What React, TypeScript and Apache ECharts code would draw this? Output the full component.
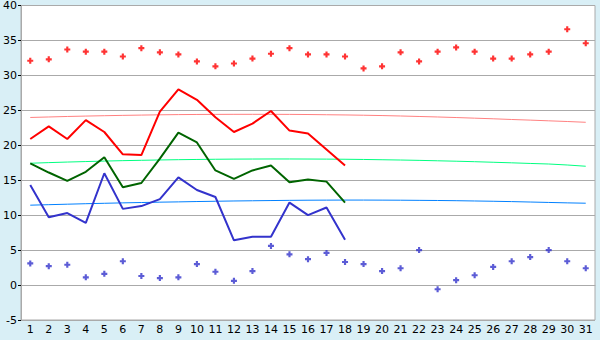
import React, { useEffect, useRef } from "react";
import * as echarts from "echarts";

const days = Array.from({ length: 31 }, (_, i) => String(i + 1));
const yTicks = [-5, 0, 5, 10, 15, 20, 25, 30, 35, 40];

const maxTemp = [20.9, 22.7, 20.9, 23.6, 21.9, 18.7, 18.6, 24.8, 28.0, 26.5, 24.0, 21.9, 23.1, 24.9, 22.1, 21.7, 19.4, 17.1];
const avgTemp = [17.4, 16.1, 14.9, 16.2, 18.3, 14.0, 14.6, 18.1, 21.8, 20.4, 16.4, 15.2, 16.4, 17.1, 14.7, 15.1, 14.8, 11.8];
const minTemp = [14.3, 9.7, 10.3, 8.9, 16.0, 10.9, 11.3, 12.3, 15.4, 13.6, 12.6, 6.4, 6.9, 6.9, 11.8, 10.0, 11.1, 6.5];

const recordMax = [32.1, 32.3, 33.7, 33.4, 33.4, 32.7, 33.9, 33.3, 33.0, 32.0, 31.3, 31.7, 32.4, 33.1, 33.9, 33.0, 33.0, 32.7, 31.0, 31.3, 33.3, 32.0, 33.4, 34.0, 33.4, 32.4, 32.4, 33.0, 33.4, 36.6, 34.6];
const recordMin = [3.1, 2.7, 2.9, 1.1, 1.6, 3.4, 1.3, 1.0, 1.1, 3.0, 1.9, 0.6, 2.0, 5.6, 4.4, 3.7, 4.6, 3.3, 3.0, 2.0, 2.4, 5.0, -0.6, 0.7, 1.4, 2.6, 3.4, 4.0, 5.0, 3.4, 2.4];

const normalMax = [23.98, 24.05, 24.12, 24.18, 24.23, 24.28, 24.32, 24.36, 24.39, 24.41, 24.42, 24.43, 24.43, 24.43, 24.42, 24.4, 24.37, 24.34, 24.3, 24.25, 24.19, 24.12, 24.05, 23.97, 23.88, 23.79, 23.69, 23.6, 23.5, 23.4, 23.29];
const normalAvg = [17.43, 17.52, 17.6, 17.67, 17.74, 17.8, 17.85, 17.9, 17.94, 17.97, 18.0, 18.02, 18.03, 18.04, 18.04, 18.03, 18.02, 18.0, 17.97, 17.93, 17.89, 17.84, 17.78, 17.72, 17.65, 17.57, 17.49, 17.4, 17.32, 17.18, 17.0];
const normalMin = [11.43, 11.5, 11.57, 11.64, 11.7, 11.76, 11.81, 11.86, 11.9, 11.95, 11.99, 12.03, 12.06, 12.09, 12.12, 12.14, 12.15, 12.16, 12.16, 12.15, 12.14, 12.12, 12.1, 12.07, 12.03, 11.99, 11.94, 11.88, 11.82, 11.76, 11.71];

const plus = "path://M1.6,0H3.4V1.6H5V3.4H3.4V5H1.6V3.4H0V1.6H1.6Z";

export default function App() {
  const ref = useRef<HTMLDivElement>(null);
  useEffect(() => {
    document.body.style.margin = "0";
    const chart = echarts.init(ref.current!, null, { renderer: "svg" });
    const font = { fontFamily: "DejaVu Sans", fontSize: 11, color: "#000" };
    const line = (name: string, data: number[], color: string, width: number) => ({
      name,
      type: "line",
      data,
      symbol: "none",
      lineStyle: { color, width },
      itemStyle: { color },
      z: width > 1 ? 3 : 2,
    });
    const scatter = (name: string, data: number[], color: string) => ({
      name,
      type: "scatter",
      data,
      symbol: plus,
      symbolSize: 6,
      itemStyle: { color },
      z: 4,
    });
    chart.setOption({
      animation: false,
      backgroundColor: "#d9eff6",
      grid: {
        left: 20,
        right: 5,
        top: 5,
        bottom: 20,
        show: true,
        backgroundColor: "#ffffff",
        borderColor: "#aaaaaa",
        borderWidth: 1,
      },
      xAxis: {
        type: "category",
        data: days,
        boundaryGap: true,
        axisLine: { lineStyle: { color: "#aaaaaa" } },
        axisTick: { alignWithLabel: true, length: 5, lineStyle: { color: "#000" } },
        axisLabel: { ...font, margin: 4, interval: 0 },
        splitLine: { show: false },
      },
      yAxis: {
        type: "value",
        min: yTicks[0],
        max: yTicks[yTicks.length - 1],
        interval: 5,
        axisLine: { show: true, lineStyle: { color: "#aaaaaa" } },
        axisTick: { show: true, length: 3, lineStyle: { color: "#000" } },
        axisLabel: { ...font, margin: 4 },
        splitLine: { show: true, lineStyle: { color: "#aaaaaa", width: 1 } },
      },
      series: [
        line("normalMax", normalMax, "#ff8080", 1),
        line("normalAvg", normalAvg, "#00ff80", 1),
        line("normalMin", normalMin, "#0080ff", 1),
        line("max", maxTemp, "#ff0000", 2),
        line("avg", avgTemp, "#006400", 2),
        line("min", minTemp, "#3333cc", 2),
        scatter("recordMax", recordMax, "#ff0000"),
        scatter("recordMin", recordMin, "#3333cc"),
      ],
    });
    return () => chart.dispose();
  }, []);
  return <div ref={ref} style={{ width: 600, height: 340 }} />;
}
